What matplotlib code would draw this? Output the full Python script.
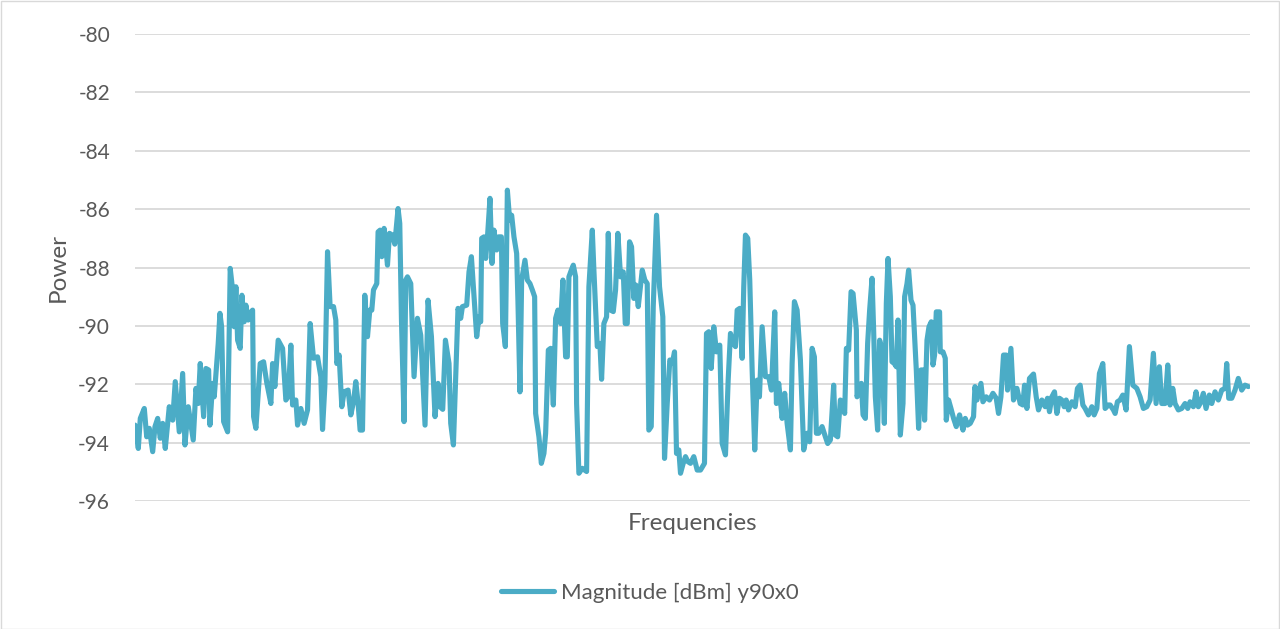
import matplotlib
matplotlib.use("Agg")
import matplotlib.pyplot as plt
from matplotlib.patches import Rectangle

# frequency bin along the sweep (one row per stretch of the trace)
freq_bin = [
    0, 3.3, 5.3, 9.3, 11.7, 14.3, 17.7, 20, 22.7, 25.3, 27.7, 30.3, 34.3, 37.7, 40.3, 44.3, 47.7,
    50, 53.3, 58.3, 61, 63.3, 65.3, 68.7, 71, 73.7, 75, 77.7, 79.3, 83.3, 85, 86.7, 88.7, 92.7,
    95.3, 97.7, 99.3, 101, 102.7, 105.3, 107, 109.3, 111, 113.3, 115, 117.7, 118.7, 121, 125.3,
    128.7, 132,
    136, 137.7, 140, 143.3, 147.7, 151, 153.3, 156, 157.7, 161, 162.7, 166, 169.3, 172.7, 175.3,
    178.7, 182.7, 186, 187.7, 190, 192.7, 195.3, 198.7, 201, 202, 204.3, 207, 209.3, 213.3, 216,
    218.7, 221, 223.3, 225.3, 227.7, 230, 232.7, 235, 237, 238.7, 242, 243.3, 245.3, 247, 249.3,
    252.7, 254.7, 257.7, 260, 263.3, 265, 266.7, 269.3, 271, 272.7,
    276, 279.3, 282.7, 286, 290.3, 293.3, 296.7, 300.3, 303.3, 305.3, 308, 310.7, 314.3, 316,
    318.7, 323.3, 326, 327.7, 332, 334.3, 336.7, 339.3, 342, 344.3, 346, 347, 349.3, 351, 352.7,
    355.3, 357.3, 359.3, 362, 364, 366.7, 368, 370.7, 372.7, 375, 377, 379.3, 382, 383.3, 385.3,
    387, 390.3, 392.7, 395.3, 397.7, 400, 401, 404.3, 406.7, 409.3, 411, 413.7,
    416, 418.7, 421, 423.3, 426, 428.3, 431, 432.7, 434.3, 436.7, 438.7, 441, 442, 444.3, 447.7,
    452, 454.3, 457.7, 459.3, 462.7, 465.3, 467, 469.3, 472, 473.7, 476, 478.7, 481, 483.3, 486,
    488.7, 490.7, 492.7, 495, 497, 499.3, 501.3, 503.7, 507.7, 510.3, 512.7, 514.3, 516.7, 518.7,
    522, 525, 528.3, 530, 532.7, 535.3, 537.7, 540, 542, 544.3, 546, 548.7, 551, 553.3,
    556, 559.3, 562.7, 566, 570, 572, 574.3, 576.7, 579.3, 582, 585.3, 587.7, 591, 593.7, 596,
    598.7, 601, 602.7, 605.3, 607.7, 609.3, 611, 613.3, 615.3, 617.7, 620.3, 622.7, 625, 627.7,
    631, 634.3, 637, 640.3, 642, 644.3, 647.7, 650.3, 652.7, 656, 657.7, 660, 662.7, 666, 669.3,
    672.7, 675.3, 677.7, 680, 682, 684.3, 687.7, 691, 693.3,
    696, 699.3, 701, 703.3, 706, 708.7, 710.3, 712, 714.3, 716.7, 718.7, 722, 722.7, 725.3, 727,
    728.7, 731, 733.3, 735.3, 737.7, 739.3, 741, 743.3, 745.3, 747.7, 750, 752, 753.7, 756, 757.7,
    760, 762, 763.7, 766, 768.7, 770.3, 772.7, 774.3, 776.7, 778.7, 782, 784.3, 786.7, 788.7,
    790.3, 792.7, 794.7, 797, 798.7, 800.3, 802, 805.3, 806, 808.7, 811, 812, 814.3, 816.7, 819.3,
    822, 825.3, 828.7, 831, 833.3,
    836, 839.3, 840.7, 842.7, 846.7, 848.7, 852, 855.3, 858.7, 862, 864.3, 866.7, 869.3, 872,
    873.3, 876.7, 879.3, 882.7, 886, 888.7, 890.3, 892.7, 895.3, 899.3, 902, 904.3, 907.7, 911,
    913.3, 915.3, 917.7, 920.3, 922.7, 925.3, 927.7, 930, 932, 934.3, 937.7, 941, 943.3, 946,
    948.7, 951, 954.3, 957.7, 960, 962.7, 965.3, 968.7, 971, 974.3,
    976, 979.3, 981, 983.3, 986, 988.7, 992, 995.3, 998.7, 1002.7, 1006, 1009.3, 1012.7, 1016,
    1019.3, 1022, 1025.3, 1027.7, 1031, 1033.7, 1036, 1038.7, 1041, 1044.3, 1047.7, 1051, 1053.7,
    1056, 1059.3, 1062, 1064.3, 1067, 1069.3, 1072, 1075.3, 1077.7, 1081, 1084.3, 1087.7, 1091,
    1092.7, 1094.7, 1097.7, 1101, 1104.3, 1107.7, 1111, 1114.3,
]

# measured power in dBm, same rows as above
power_dbm = [
    -93.40, -94.20, -93.17, -92.83, -93.80, -93.51, -94.31, -93.45, -93.17, -93.85, -93.34,
    -94.20, -92.77, -93.23, -91.91, -93.63, -91.63, -94.08, -92.77, -93.91, -92.14, -92.66,
    -91.29, -93.11, -91.46, -91.51, -93.40, -91.97, -92.43, -90.60, -89.57, -90.03, -93.28,
    -93.63, -88.03, -88.77, -90.03, -88.66, -90.49, -90.77, -88.95, -89.86, -89.29, -89.80,
    -89.57, -89.46, -93.11, -93.51, -91.29, -91.23, -91.97,
    -92.66, -91.29, -92.08, -90.49, -90.77, -92.54, -92.43, -90.66, -92.71, -92.54, -93.40,
    -92.83, -93.34, -92.88, -89.92, -91.11, -91.06, -91.74, -93.55, -92.08, -87.46, -89.34,
    -89.34, -89.80, -91.29, -91.00, -92.77, -92.26, -92.20, -93.05, -92.60, -91.91, -92.66,
    -93.57, -93.57, -88.95, -90.37, -89.46, -89.46, -88.77, -88.55, -86.78, -86.72, -87.63,
    -86.66, -87.92, -86.83, -86.89, -87.20, -85.98, -86.49, -89.80, -93.28, -88.43, -88.32,
    -88.55, -91.74, -89.74, -90.32, -93.40, -89.12, -90.37, -93.11, -91.97, -92.77, -92.86,
    -90.49, -91.29, -93.34, -94.08, -89.40, -89.74, -89.34, -89.29, -88.15, -87.63, -89.00,
    -90.37, -89.69, -89.86, -87.00, -86.95, -87.69, -87.00, -85.63, -87.86, -86.72, -87.40,
    -86.95, -86.95, -89.92, -90.71, -85.35, -86.38, -86.21, -86.95, -87.52, -89.17, -92.26,
    -88.43, -87.75, -88.43, -88.55, -88.77, -89.00, -93.00, -93.80, -94.71, -94.37, -93.68,
    -90.83,
    -90.77, -92.71, -89.74, -89.46, -89.92, -88.43, -91.06, -91.06, -88.32, -88.09, -87.92,
    -88.32, -92.66, -95.05, -94.88, -94.99, -88.66, -86.72, -88.09, -90.71, -90.60, -91.83,
    -89.92, -89.69, -86.83, -89.46, -89.51, -88.77, -86.83, -88.32, -88.15, -89.92, -89.92,
    -87.12, -87.29, -89.06, -88.60, -89.34, -88.09, -88.43, -88.55, -93.57, -93.45, -89.34,
    -86.21, -88.66, -89.69, -94.54, -92.66, -91.17, -91.29, -90.89, -94.37, -94.25, -95.05,
    -94.71, -94.48, -94.65,
    -94.71, -94.48, -94.94, -94.94, -94.71, -90.26, -90.20, -91.46, -90.03, -90.89, -90.66,
    -94.03, -94.42, -91.86, -90.26, -90.60, -90.71, -89.46, -89.40, -91.11, -88.66, -86.89,
    -87.00, -88.43, -91.51, -94.25, -91.86, -92.43, -90.03, -91.74, -91.74, -92.20, -89.52,
    -92.66, -91.97, -93.17, -92.31, -93.34, -94.25, -91.29, -89.17, -89.46, -91.17, -94.25,
    -93.68, -93.97, -90.77, -91.06, -93.68, -93.68, -93.45, -93.80, -94.03,
    -93.91, -92.03, -93.74, -93.80, -92.54, -92.66, -93.00, -90.77, -90.83, -88.83, -88.89,
    -90.14, -92.43, -92.08, -91.97, -93.05, -93.17, -90.60, -89.46, -88.37, -90.14, -92.43,
    -93.57, -90.49, -90.83, -93.34, -89.23, -87.69, -89.00, -91.23, -91.29, -91.40, -89.80,
    -93.74, -92.66, -89.00, -88.55, -88.09, -89.12, -89.29, -91.51, -93.51, -91.51, -91.51,
    -93.23, -90.49, -90.03, -89.86, -91.34, -91.00, -89.52, -89.52, -90.89, -90.89, -91.11,
    -93.23, -92.54, -92.83, -93.17, -93.45, -93.05, -93.57, -93.17, -93.40,
    -93.34, -93.11, -92.08, -92.54, -91.97, -92.60, -92.43, -92.54, -92.31, -92.48, -93.00,
    -92.43, -91.00, -91.00, -92.20, -90.77, -92.54, -92.14, -92.66, -92.71, -92.03, -92.83,
    -91.80, -91.65, -92.43, -92.88, -92.54, -92.77, -92.48, -92.94, -92.43, -92.26, -93.00,
    -92.48, -92.54, -92.77, -92.54, -92.88, -92.60, -92.77, -92.14, -92.03, -92.71, -92.83,
    -93.05, -92.77, -93.05, -92.83, -91.63, -91.29, -92.83, -92.71,
    -92.71, -92.88, -93.00, -92.60, -92.54, -92.37, -92.88, -90.71, -92.03, -92.14, -92.43,
    -92.83, -92.77, -92.54, -90.94, -92.66, -91.40, -92.66, -92.66, -91.34, -92.71, -92.14,
    -92.66, -92.88, -92.83, -92.66, -92.83, -92.60, -92.77, -92.26, -92.77, -92.60, -92.31,
    -92.83, -92.37, -92.66, -92.26, -92.54, -92.20, -92.14, -91.29, -92.48, -92.48, -92.20,
    -91.80, -92.20, -92.03, -92.08,
]

assert len(freq_bin) == len(power_dbm), (len(freq_bin), len(power_dbm))

y_ticks = [-96, -94, -92, -90, -88, -86, -84, -82, -80]
series_name = "Magnitude [dBm] y90x0"

plt.rcParams['font.family'] = ['Lato', 'DejaVu Sans']
text_col = '#595959'
line_col = '#4BACC6'

fig = plt.figure(figsize=(12.8, 6.29), dpi=100)
ax = fig.add_axes([135 / 1280, 1 - 501 / 629, 1115 / 1280, 467 / 629])

ax.plot(freq_bin, power_dbm, color=line_col, linewidth=3.7,
        solid_joinstyle='round', solid_capstyle='round', label=series_name, zorder=3)

ax.set_xlim(0, 1116)
ax.set_ylim(-96, -80)
ax.set_yticks(y_ticks)
ax.set_yticklabels([str(v) for v in y_ticks])
ax.set_xticks([])
ax.grid(axis='y', color='#D9D9D9', linewidth=1.3)
ax.set_axisbelow(True)
for s in ax.spines.values():
    s.set_visible(False)
ax.tick_params(axis='y', length=0, pad=18, labelsize=15, labelcolor=text_col)

ax.set_ylabel('Power', fontsize=17.5, color=text_col, labelpad=7)
ax.set_xlabel('Frequencies', fontsize=17.5, color=text_col, labelpad=9)

leg = fig.legend(loc='center', bbox_to_anchor=(650 / 1280, 1 - 593 / 629),
                 frameon=False, fontsize=16, handlelength=2.4, handletextpad=0.3)
for t in leg.get_texts():
    t.set_color(text_col)

# chart area border
fig.patches.append(Rectangle((0.5 / 1280, 0.5 / 629), 1 - 1.5 / 1280, 1 - 1.5 / 629,
                             transform=fig.transFigure, fill=False,
                             edgecolor='#D9D9D9', linewidth=1))

fig.savefig('out.png', dpi=100)
